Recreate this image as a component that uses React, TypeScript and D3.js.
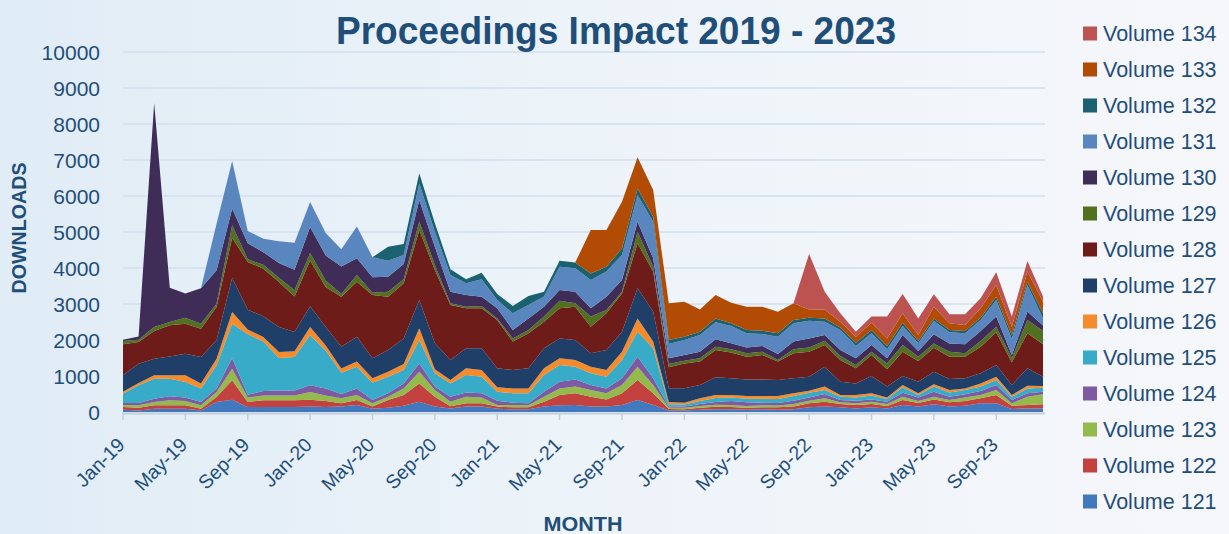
import React, { useEffect, useRef } from "react";
import * as d3 from "d3";

// monthly downloads per volume, Jan-19 .. Dec-23 (60 months)
const v121 = [65,45,90,90,90,45,280,340,140,140, 140,140,155,140,150,195,90,120,175,285, 150,100,150,150,90,75,75,150,185,195, 150,150,195,335,195,40,40,60,75,75, 60,75,60,75,130,150,130,100,130,100, 195,150,215,150,175,240,240,85,100,100];
const v122 = [75,75,95,95,95,45,135,540,140,185, 185,185,185,165,90,140,60,215,295,510, 275,60,90,90,60,55,55,135,285,325, 275,200,325,555,325,40,35,55,70,65, 60,60,70,75,110,135,90,95,90,65, 140,100,135,120,130,140,230,90,95,115];
const v123 = [55,65,95,140,120,95,140,320,120,135, 135,135,215,155,140,135,90,90,185,325, 185,125,185,165,45,65,55,140,185,185, 185,170,230,370,230,35,40,50,55,55, 50,50,50,70,75,95,50,45,65,55, 90,55,75,65,95,90,140,65,230,275];
const v124 = [55,65,90,110,95,95,95,300,80,120, 140,140,185,190,120,185,95,95,140,230, 95,140,120,115,120,65,55,140,185,200, 140,135,185,275,185,40,40,60,80,110, 100,70,70,95,90,120,65,75,65,65, 110,95,140,90,90,115,140,95,95,75];
const v125 = [260,490,555,490,435,370,650,950,1680,1380, 900,930,1390,1060,590,605,480,460,370,650, 370,370,485,460,250,260,280,465,465,355, 325,325,510,695,835,60,50,80,110,95, 100,110,110,130,130,110,90,90,105,75, 150,70,140,120,120,120,140,90,135,110];
const v126 = [55,65,95,95,185,140,180,330,130,120, 165,155,230,140,120,140,120,140,165,325, 110,95,185,185,120,135,135,185,185,185, 185,185,230,370,185,60,55,75,80,70, 75,80,85,75,55,95,45,65,65,45, 65,50,65,65,45,90,90,45,75,45];
const v127 = [455,535,460,525,600,740,510,950,550,580, 695,535,575,510,605,690,555,600,715,785, 725,555,555,605,530,510,560,555,555,555, 370,555,555,835,835,385,400,370,495,465, 460,460,445,415,390,555,370,325,480,300, 250,320,350,305,280,280,325,280,485,260];
const v128 = [860,605,770,865,830,785,925,1110,1330,1320, 1250,990,1275,1110,1385,1530,1760,1480,1530,1945, 2035,1525,1110,1110,1340,790,970,740,835,925, 740,1020,1065,1250,1110,580,690,650,755,715, 630,680,510,695,695,600,605,420,585,480, 675,575,665,620,600,740,910,630,970,900];
const v129 = [90,65,110,90,170,135,95,345,70,110, 120,170,205,185,80,185,65,140,110,235, 140,50,45,65,45,90,95,140,210,95, 280,95,45,325,135,95,75,90,95,90, 95,90,45,110,120,120,110,90,90,165, 185,120,120,140,95,155,155,110,370,370];
const v130 = [40,90,6220,950,670,985,925,465,450,350, 410,570,725,695,760,465,425,420,425,600, 505,320,325,255,280,235,320,275,300,320, 230,365,325,275,235,155,160,185,205,170, 165,160,165,215,250,160,165,185,185,140, 280,160,255,230,250,280,280,95,235,150];
const v131 = [0,0,0,0,0,0,1295,1320,340,375, 600,750,690,620,480,880,560,440,250,460, 420,465,325,485,230,460,370,280,645,650, 785,700,695,745,1015,400,415,465,470,480, 390,330,480,510,490,370,560,345,325,250, 250,215,370,310,305,305,460,445,740,200];
const v132 = [0,0,0,0,0,0,0,0,0,0, 0,0,0,0,0,0,0,390,310,280, 230,160,110,185,170,205,250,135,165,160, 185,135,185,180,140,110,90,90,110,75, 95,95,95,90,85,90,70,90,95,95, 90,60,70,65,65,65,90,110,90,140];
const v133 = [0,0,0,0,0,0,0,0,0,0, 0,0,0,0,0,0,0,0,0,0, 0,0,0,0,0,0,0,0,0,0, 1205,1020,1295,865,740,1020,975,620,650,570, 645,665,600,465,230,250,160,165,200,210, 260,170,325,185,165,260,330,230,280,325];
const v134 = [0,0,0,0,0,0,0,0,0,0, 0,0,0,0,0,0,0,0,0,0, 0,0,0,0,0,0,0,0,0,0, 0,0,0,0,0,0,0,0,0,0, 0,0,0,0,1540,490,230,140,170,605, 540,460,345,250,300,280,350,280,295,140];

const volumes = ["Volume 121","Volume 122","Volume 123","Volume 124","Volume 125","Volume 126","Volume 127","Volume 128","Volume 129","Volume 130","Volume 131","Volume 132","Volume 133","Volume 134"];
const seriesValues = [v121,v122,v123,v124,v125,v126,v127,v128,v129,v130,v131,v132,v133,v134];
const colors = ["#4178be","#c3423f","#94ba4b","#7d5aa2","#38abc8","#f68b2c","#1f3f68","#6e1c1a","#52701f","#3f2d58","#5a86c0","#1b6170","#b24c04","#bc5350"];

const tickLabels = ["Jan-19","May-19","Sep-19","Jan-20","May-20","Sep-20","Jan-21","May-21","Sep-21","Jan-22","May-22","Sep-22","Jan-23","May-23","Sep-23"];
const yTicks = [0,1000,2000,3000,4000,5000,6000,7000,8000,9000,10000];

const W = 1229;
const H = 534;
const textColor = "#1f4e79";
const font = "Liberation Sans, Arial, sans-serif";

export default function App() {
  const svgRef = useRef<SVGSVGElement>(null);

  useEffect(() => {
    const svg = d3.select(svgRef.current);
    svg.selectAll("*").remove();

    const defs = svg.append("defs");
    const bg = defs.append("linearGradient").attr("id", "bg").attr("x1", 0).attr("x2", 1).attr("y1", 0).attr("y2", 0);
    bg.append("stop").attr("offset", "0%").attr("stop-color", "#e0ecf6");
    bg.append("stop").attr("offset", "45%").attr("stop-color", "#ecf3f9");
    bg.append("stop").attr("offset", "100%").attr("stop-color", "#f6f7fb");
    svg.append("rect").attr("width", W).attr("height", H).attr("fill", "url(#bg)");

    const n = v121.length;
    const x = d3.scaleLinear().domain([0, n - 1]).range([123, 1043]);
    const y = d3.scaleLinear().domain([0, 10000]).range([412, 52]);

    // gridlines
    svg.append("g")
      .selectAll("line")
      .data(yTicks.slice(1))
      .join("line")
      .attr("x1", 123).attr("x2", 1045)
      .attr("y1", d => y(d)).attr("y2", d => y(d))
      .attr("stroke", "#d2dfee").attr("stroke-width", 1.5);

    const rows = d3.range(n).map(i => {
      const r: any = { i };
      volumes.forEach((v, k) => { r[v] = seriesValues[k][i]; });
      return r;
    });
    const stacked = d3.stack().keys(volumes)(rows);

    const area = d3.area<any>()
      .x(d => x(d.data.i))
      .y0(d => y(d[0]))
      .y1(d => y(d[1]));

    svg.append("g")
      .selectAll("path")
      .data(stacked)
      .join("path")
      .attr("d", d => area(d as any))
      .attr("fill", (d, k) => colors[k]);

    // x axis
    svg.append("line")
      .attr("x1", 122).attr("x2", 1045).attr("y1", 413.5).attr("y2", 413.5)
      .attr("stroke", "#c2cfdd").attr("stroke-width", 2);
    const tickIdx = tickLabels.map((_, j) => j * 4);
    svg.append("g")
      .selectAll("line")
      .data(tickIdx)
      .join("line")
      .attr("x1", d => x(d)).attr("x2", d => x(d))
      .attr("y1", 413).attr("y2", 420)
      .attr("stroke", "#c2cfdd").attr("stroke-width", 1.5);

    svg.append("g")
      .selectAll("text")
      .data(tickLabels)
      .join("text")
      .attr("transform", (d, j) => `translate(${x(j * 4) + 3},${446}) rotate(-45)`)
      .attr("text-anchor", "end")
      .attr("font-family", font)
      .attr("font-size", 19.5)
      .attr("fill", textColor)
      .text(d => d);

    // y labels
    svg.append("g")
      .selectAll("text")
      .data(yTicks)
      .join("text")
      .attr("x", 100)
      .attr("y", d => y(d))
      .attr("dy", "0.36em")
      .attr("text-anchor", "end")
      .attr("font-family", font)
      .attr("font-size", 21)
      .attr("fill", textColor)
      .text(d => d);

    // titles
    svg.append("text")
      .attr("x", 336).attr("y", 44)
      .attr("textLength", 560).attr("lengthAdjust", "spacingAndGlyphs")
      .attr("font-family", font)
      .attr("font-weight", "bold").attr("font-size", 39)
      .attr("fill", textColor)
      .text("Proceedings Impact 2019 - 2023");

    svg.append("text")
      .attr("transform", "translate(26,228) rotate(-90)")
      .attr("text-anchor", "middle")
      .attr("textLength", 131).attr("lengthAdjust", "spacingAndGlyphs")
      .attr("font-family", font)
      .attr("font-weight", "bold").attr("font-size", 21)
      .attr("fill", textColor)
      .text("DOWNLOADS");

    svg.append("text")
      .attr("x", 583).attr("y", 531)
      .attr("text-anchor", "middle")
      .attr("textLength", 79).attr("lengthAdjust", "spacingAndGlyphs")
      .attr("font-family", font)
      .attr("font-weight", "bold").attr("font-size", 20)
      .attr("fill", textColor)
      .text("MONTH");

    // legend, top = last volume
    const legend = svg.append("g")
      .selectAll("g")
      .data(volumes.slice().reverse())
      .join("g")
      .attr("transform", (d, j) => `translate(1083,${33.5 + j * 36})`);
    legend.append("rect")
      .attr("x", 0).attr("y", -7).attr("width", 14).attr("height", 14)
      .attr("fill", d => colors[volumes.indexOf(d)]);
    legend.append("text")
      .attr("x", 20).attr("dy", "0.36em")
      .attr("font-family", font)
      .attr("font-size", 21.5)
      .attr("fill", textColor)
      .text(d => d);
  }, []);

  return (
    <div style={{ position: "absolute", left: 0, top: 0 }}>
      <svg ref={svgRef} width={W} height={H} style={{ display: "block" }} />
    </div>
  );
}
